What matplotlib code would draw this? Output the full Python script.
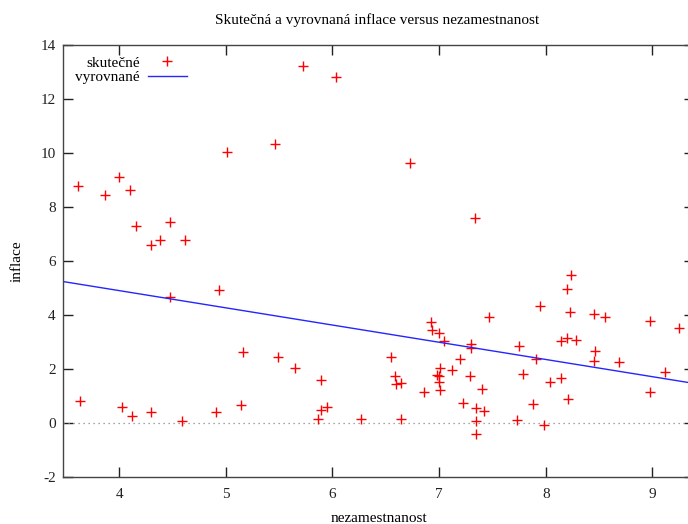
import matplotlib
matplotlib.use("Agg")
import matplotlib.pyplot as plt

# nezamestnanost (x) a skutecna inflace (y)
nezam = [3.61, 3.87, 4.00, 4.10, 4.16, 4.30, 4.38, 4.48, 4.62, 5.01, 5.46, 5.72, 6.03,
         6.73, 7.34,
         3.63, 4.03, 4.12, 4.30, 4.48, 4.59, 4.91, 4.94, 5.14, 5.16, 5.49, 5.65, 5.89,
         5.86, 5.89, 5.95,
         6.27, 6.55, 6.59, 6.60, 6.64, 6.64, 6.86, 6.92, 6.93, 7.00, 7.05, 6.98, 7.00,
         7.01, 7.00, 7.01, 7.12, 7.20, 7.22, 7.29, 7.30, 7.30, 7.35, 7.35, 7.35, 7.40,
         7.42, 7.47, 7.73, 7.75, 7.79, 7.88, 7.91, 7.95, 7.98, 8.04, 8.14, 8.14, 8.20,
         8.20, 8.24, 8.23, 8.21, 8.28, 8.45, 8.46, 8.45, 8.56, 8.69, 8.98, 8.98, 9.12,
         9.25]
inflace = [8.77, 8.44, 9.11, 8.64, 7.30, 6.61, 6.78, 7.44, 6.78, 10.03, 10.33, 13.23, 12.82,
           9.63, 7.60,
           0.82, 0.57, 0.24, 0.41, 4.66, 0.07, 0.41, 4.91, 0.66, 2.64, 2.43, 2.05, 1.57,
           0.15, 0.48, 0.58,
           0.15, 2.44, 1.73, 1.45, 1.47, 0.15, 1.14, 3.72, 3.43, 3.34, 3.02, 1.76, 1.72,
           2.05, 1.53, 1.22, 1.94, 2.36, 0.74, 1.73, 2.93, 2.77, 0.53, 0.07, -0.41, 1.24,
           0.45, 3.92, 0.11, 2.86, 1.82, 0.69, 2.36, 4.34, -0.09, 1.52, 1.66, 3.02, 3.14,
           4.95, 5.47, 4.09, 0.87, 3.06, 4.05, 2.66, 2.30, 3.91, 2.26, 3.76, 1.14, 1.90,
           3.51]

# vyrovnane hodnoty (primka z regrese) - koncove body
fit_x = [3.47, 9.39]
fit_y = [5.24, 1.46]

xticks = [4, 5, 6, 7, 8, 9]
yticks = [-2, 0, 2, 4, 6, 8, 10, 12, 14]

plt.rcParams['font.family'] = ['Liberation Serif', 'DejaVu Serif']
plt.rcParams['axes.unicode_minus'] = False

fig = plt.figure(figsize=(6.88, 5.24), dpi=100)
# axes sahaji az za pravy okraj obrazku (jako v originale)
ax = fig.add_axes([62.7/688, 1 - 476.7/524, (694 - 62.7)/688, (476.7 - 45.3)/524])

# nulova cara
ax.axhline(0, color='#888888', lw=0.9, ls=(0, (1, 3)))

ax.plot(nezam, inflace, ls='none', marker='+', color='#ff0000', ms=7, mew=1.0,
        label='skutečné')
ax.plot(fit_x, fit_y, color='#2525ff', lw=1.0, label='vyrovnané')

ax.set_xlim(3.47, 9.39)
ax.set_ylim(-2, 14)
ax.set_xticks(xticks)
ax.set_yticks(yticks)
ax.tick_params(direction='in', length=7, width=1, top=True, right=True,
               labelsize=11, colors='#222222')
ax.tick_params(axis='x', pad=8)
ax.tick_params(axis='y', pad=5)
for s in ax.spines.values():
    s.set_color('#444444')
    s.set_linewidth(1.0)

fig.text(379/688, 1 - 518/524, 'nezamestnanost', ha='center', va='center', fontsize=11)
fig.text(17/688, 1 - 261/524, 'inflace', ha='center', va='center', fontsize=11,
         rotation=90)
fig.text(377/688, 1 - 20/524, 'Skutečná a vyrovnaná inflace versus nezamestnanost',
         ha='center', va='center', fontsize=11)

leg = ax.legend(loc='upper left', frameon=False, markerfirst=False, fontsize=11,
                handlelength=2.6, handletextpad=0.5, borderaxespad=0.0, borderpad=0.0,
                labelspacing=0.05, bbox_to_anchor=(0.02, 0.975))

fig.savefig('out.png', dpi=100)
